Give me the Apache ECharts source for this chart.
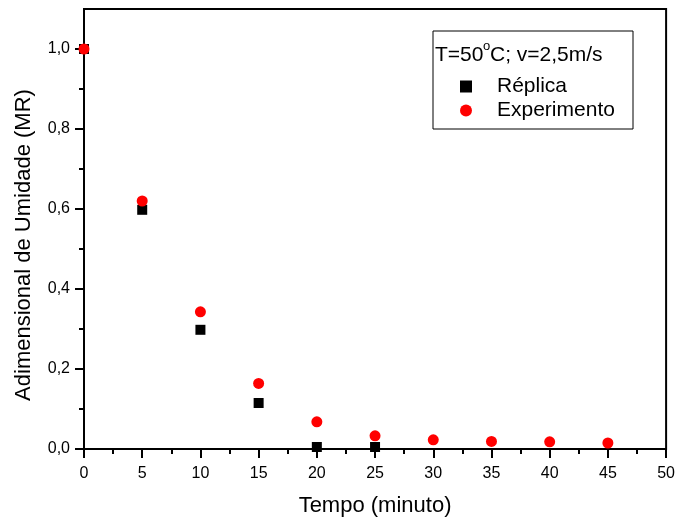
<!DOCTYPE html>
<html>
<head>
<meta charset="utf-8">
<script src="https://cdn.jsdelivr.net/npm/echarts@6/dist/echarts.min.js"></script>
<style>
html,body{margin:0;padding:0;background:#fff;}
#chart{width:678px;height:522px;}
</style>
</head>
<body>
<div id="chart"></div>
<script>
var tempoReplica = [0, 5, 10, 15, 20, 25];
var mrReplica = [1.0, 0.598, 0.298, 0.115, 0.005, 0.005];
var tempoExp = [0, 5, 10, 15, 20, 25, 30, 35, 40, 45];
var mrExp = [1.0, 0.62, 0.343, 0.164, 0.068, 0.033, 0.023, 0.019, 0.018, 0.015];
var yTicks = [0, 0.2, 0.4, 0.6, 0.8, 1.0];
var yMinorTicks = [0.1, 0.3, 0.5, 0.7, 0.9];

var fonte = 'Liberation Sans, Arial, sans-serif';

function pares(xs, ys) {
	var out = [];
	for (var i = 0; i < xs.length; i++) {
		out.push([xs[i], ys[i]]);
	}
	return out;
}

var mycharts = echarts.init(document.getElementById('chart'));
var option = {
	animation: false,
	backgroundColor: '#fff',
	grid: {
		left: 84,
		right: 11,
		top: 9,
		bottom: 73,
		show: true,
		borderColor: '#000',
		borderWidth: 2,
		backgroundColor: 'transparent'
	},
	legend: {
		orient: 'vertical',
		left: 455,
		top: 71,
		itemWidth: 12,
		itemHeight: 12,
		itemGap: 3,
		textStyle: {
			fontFamily: fonte,
			fontSize: 21,
			lineHeight: 21,
			color: '#000',
			padding: [0, 0, 0, 20]
		},
		data: [{ name: 'Réplica', icon: 'rect' }, { name: 'Experimento', icon: 'circle' }]
	},
	xAxis: {
		type: 'value',
		min: 0,
		max: 50,
		interval: 5,
		name: 'Tempo (minuto)',
		nameLocation: 'middle',
		nameGap: 46,
		nameTextStyle: { fontFamily: fonte, fontSize: 22, color: '#000' },
		axisLine: { onZero: false, lineStyle: { color: '#000', width: 2 } },
		axisTick: { inside: false, length: 9, lineStyle: { color: '#000', width: 2 } },
		minorTick: { show: true, splitNumber: 2, length: 5, lineStyle: { color: '#000', width: 2 } },
		axisLabel: { fontFamily: fonte, fontSize: 16, color: '#000', margin: 17 },
		splitLine: { show: false }
	},
	yAxis: [{
		type: 'value',
		min: 0,
		max: 1.1,
		axisLine: { onZero: false, lineStyle: { color: '#000', width: 2 } },
		axisTick: { length: 9, customValues: yTicks, lineStyle: { color: '#000', width: 2 } },
		axisLabel: {
			fontFamily: fonte,
			fontSize: 16,
			color: '#000',
			margin: 14,
			customValues: yTicks,
			formatter: function (v) { return v.toFixed(1).replace('.', ','); }
		},
		splitLine: { show: false }
	}, {
		type: 'value',
		min: 0,
		max: 1.1,
		position: 'left',
		axisLine: { show: false },
		axisTick: { length: 5, customValues: yMinorTicks, lineStyle: { color: '#000', width: 2 } },
		axisLabel: { show: false },
		splitLine: { show: false }
	}],
	graphic: [{
		type: 'rect',
		shape: { x: 433, y: 31, width: 200, height: 98 },
		style: { fill: '#fff', stroke: '#000', lineWidth: 1 },
		z: 1
	}, {
		type: 'text',
		x: 435,
		y: 55,
		style: { text: 'T=50', fontFamily: fonte, fontSize: 21, fill: '#000', verticalAlign: 'middle' },
		z: 2
	}, {
		type: 'text',
		x: 483,
		y: 46,
		style: { text: 'o', fontFamily: fonte, fontSize: 13, fill: '#000', verticalAlign: 'middle' },
		z: 2
	}, {
		type: 'text',
		x: 490,
		y: 55,
		style: { text: 'C; v=2,5m/s', fontFamily: fonte, fontSize: 21, fill: '#000', verticalAlign: 'middle' },
		z: 2
	}, {
		type: 'text',
		x: 24,
		y: 245,
		rotation: Math.PI / 2,
		style: {
			text: 'Adimensional de Umidade (MR)',
			fontFamily: fonte,
			fontSize: 22,
			fill: '#000',
			align: 'center',
			verticalAlign: 'middle'
		}
	}],
	series: [{
		name: 'Réplica',
		type: 'scatter',
		symbol: 'rect',
		symbolSize: 10,
		itemStyle: { color: '#000', opacity: 1 },
		data: pares(tempoReplica, mrReplica),
		z: 3
	}, {
		name: 'Experimento',
		type: 'scatter',
		symbol: 'circle',
		symbolSize: 11,
		itemStyle: { color: '#ff0000', opacity: 1 },
		data: pares(tempoExp, mrExp),
		z: 4
	}]
};
mycharts.setOption(option);
</script>
</body>
</html>
